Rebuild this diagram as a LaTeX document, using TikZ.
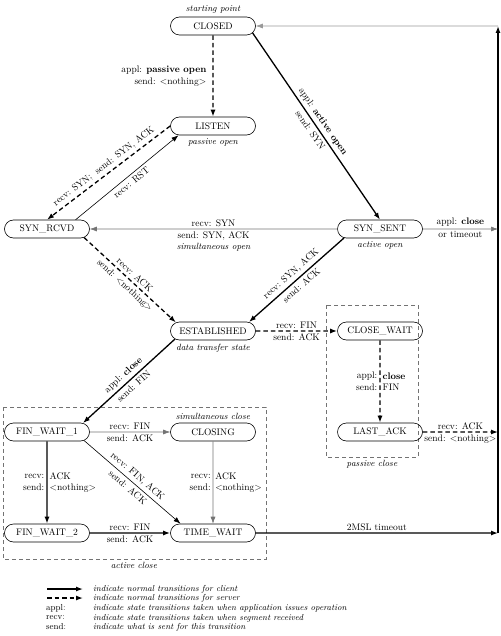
\documentclass[tikz,border=0pt]{standalone}
\usepackage{tikz}
\usetikzlibrary{arrows.meta,shapes.misc}
\newcommand{\statefont}{\fontsize{9.5}{11}\selectfont}
\newcommand{\lblfont}{\fontsize{9.5}{11.5}\selectfont}
\newcommand{\notefont}{\fontsize{9}{10}\selectfont\itshape}
\newcommand{\keyfont}{\fontsize{8.7}{10}\selectfont}

\begin{document}
\begin{tikzpicture}[x=1pt, y=-1pt,
  tcpstate/.style={rounded rectangle, draw, line width=0.6pt,
    minimum width=73pt, minimum height=18pt, inner xsep=-6pt,
    inner ysep=0pt, font=\statefont},
  client/.style={line width=1.3pt, -{Latex[length=7pt,width=5pt]}},
  server/.style={client, dash pattern=on 4.5pt off 3pt},
  thinarrow/.style={line width=0.6pt, black!55, -{Latex[length=7pt,width=5pt]}},
  lbl/.style={font=\lblfont, inner sep=2pt, text=black},
  note/.style={font=\notefont},
  region/.style={draw=black!55, line width=0.6pt, dash pattern=on 4pt off 3pt}]

  \useasboundingbox (0,0) rectangle (500,636);

  % ── Layout ──────────────────────────────────────────────────────────
  \def\colL{47}    % left column
  \def\colM{213}   % middle column
  \def\colR{380}   % right column
  \def\colW{498}   % return line on the right
  \def\rowA{26}    % CLOSED
  \def\rowB{126}   % LISTEN
  \def\rowC{229}   % SYN_RCVD, SYN_SENT
  \def\rowD{331}   % ESTABLISHED, CLOSE_WAIT
  \def\rowE{432}   % FIN_WAIT_1, CLOSING, LAST_ACK
  \def\rowF{533}   % FIN_WAIT_2, TIME_WAIT

  % ── Close regions ────────────────────────────────────────────────────
  \draw[region] (326,305) rectangle (418,457);
  \node[note, below=0pt] (passnote) at (372,457) {passive close};
  \draw[region] (3,407) rectangle (266,559);
  \node[note, below=0pt] (actnote) at (134,559) {active close};

  % ── States ───────────────────────────────────────────────────────────
  \node[tcpstate] (closed)     at (\colM,\rowA) {CLOSED};
  \node[tcpstate] (listen)     at (\colM,\rowB) {LISTEN};
  \node[tcpstate] (synrcvd)    at (\colL,\rowC) {SYN\_RCVD};
  \node[tcpstate] (synsent)    at (\colR,\rowC) {SYN\_SENT};
  \node[tcpstate] (estab)      at (\colM,\rowD) {ESTABLISHED};
  \node[tcpstate] (closewait)  at (\colR,\rowD) {CLOSE\_WAIT};
  \node[tcpstate] (finwaitone) at (\colL,\rowE) {FIN\_WAIT\_1};
  \node[tcpstate] (closing)    at (\colM,\rowE) {CLOSING};
  \node[tcpstate] (lastack)    at (\colR,\rowE) {LAST\_ACK};
  \node[tcpstate] (finwaittwo) at (\colL,\rowF) {FIN\_WAIT\_2};
  \node[tcpstate] (timewait)   at (\colM,\rowF) {TIME\_WAIT};

  % state notes
  \node[note, above=0pt] (startnote) at (closed.north) {starting point};
  \node[note, below=0pt] (listennote) at (listen.south) {passive open};
  \node[note, below=0pt] (sentnote) at (synsent.south) {active open};
  \node[note, below=0pt] (estabnote) at (estab.south) {data transfer state};
  \node[note, above=0pt] (simclose) at (closing.north) {simultaneous close};

  % ── Return line on the right ─────────────────────────────────────────
  \coordinate (wallA) at (\colW,\rowA);
  \coordinate (wallC) at (\colW,\rowC);
  \coordinate (wallE) at (\colW,\rowE);
  \coordinate (wallF) at (\colW,\rowF);
  \draw[client] (wallF) -- (wallA);
  \draw[thinarrow, black!40] (wallA) -- (closed);

  % ── Opening ──────────────────────────────────────────────────────────
  \draw[server] (closed) -- (listen)
    node[lbl, midway, left=4pt, align=right] (popen)
      {appl: \textbf{passive open}\\send: \textless nothing\textgreater};
  \draw[client] (closed.-10) -- (synsent.north)
    node[lbl, midway, sloped, above=1pt] (aopen) {appl: \textbf{active open}}
    node[lbl, midway, sloped, below=1pt] (aopensend) {send: SYN};
  \draw[server] (listen.west) -- (synrcvd.north)
    node[lbl, midway, sloped, above=1pt] (lsyn) {recv: SYN;\ \ send: SYN, ACK};
  \draw[thinarrow, black] (synrcvd.18) -- (listen.195)
    node[lbl, midway, sloped, below=1pt] (rst) {recv: RST};
  \draw[thinarrow] (synsent) -- (synrcvd)
    node[lbl, midway, above] (simrecv) {recv: SYN}
    node[lbl, midway, below, align=center] (simsend)
      {send: SYN, ACK\\{\notefont simultaneous open}};
  \draw[thinarrow] (synsent) -- (wallC)
    node[lbl, midway, above] (sclose) {appl: \textbf{close}}
    node[lbl, midway, below] (stimeout) {or timeout};
  \draw[server] (synrcvd.-13) -- (estab.167)
    node[lbl, midway, sloped, above=1pt] (rack) {recv: ACK}
    node[lbl, midway, sloped, below=1pt] (rnothing)
      {send: \textless nothing\textgreater};
  \draw[client] (synsent.194) -- (estab.14)
    node[lbl, midway, sloped, above=1pt] (ssynack) {recv: SYN, ACK}
    node[lbl, midway, sloped, below=1pt] (sack) {send: ACK};

  % ── Passive close ────────────────────────────────────────────────────
  \draw[server] (estab) -- (closewait)
    node[lbl, midway, above] (efin) {recv: FIN}
    node[lbl, midway, below] (eack) {send: ACK};
  \draw[server] (closewait) -- (lastack)
    node[lbl, midway, left, align=right] (cwkey) {appl:\\send:}
    node[lbl, midway, right, align=left] (cwval) {\textbf{close}\\FIN};
  \draw[server] (lastack) -- (wallE)
    node[lbl, midway, above] (laack) {recv: ACK}
    node[lbl, midway, below] (lanothing) {send: \textless nothing\textgreater};

  % ── Active close ─────────────────────────────────────────────────────
  \draw[client] (estab.192) -- (finwaitone.14)
    node[lbl, midway, sloped, above=1pt] (eclose) {appl: \textbf{close}}
    node[lbl, midway, sloped, below=1pt] (efinsend) {send: FIN};
  \draw[thinarrow] (finwaitone) -- (closing)
    node[lbl, midway, above] (fwfin) {recv: FIN}
    node[lbl, midway, below] (fwack) {send: ACK};
  \draw[client] (finwaitone) -- (finwaittwo)
    node[lbl, midway, left, align=right] (fwkey) {recv:\\send:}
    node[lbl, midway, right, align=left] (fwval)
      {ACK\\\textless nothing\textgreater};
  \draw[thinarrow, black] (finwaitone.-13) -- (timewait.164)
    node[lbl, midway, sloped, above=1pt] (fwfinack) {recv: FIN, ACK}
    node[lbl, midway, sloped, below=1pt] (fwsendack) {send: ACK};
  \draw[thinarrow] (closing) -- (timewait)
    node[lbl, midway, left, align=right] (clkey) {recv:\\send:}
    node[lbl, midway, right, align=left] (clval)
      {ACK\\\textless nothing\textgreater};
  \draw[client] (finwaittwo) -- (timewait)
    node[lbl, midway, above] (f2fin) {recv: FIN}
    node[lbl, midway, below] (f2ack) {send: ACK};
  \draw[client] (timewait) -- (wallF)
    node[lbl, midway, above] (msl) {2MSL timeout};

  % ── Legend ───────────────────────────────────────────────────────────
  \coordinate (keyAs) at (47,589);  \coordinate (keyAe) at (83,589);
  \coordinate (keyBs) at (47,598);  \coordinate (keyBe) at (83,598);
  \draw[client] (keyAs) -- (keyAe);
  \draw[server] (keyBs) -- (keyBe);
  \foreach \i/\yy/\abbr in {3/608/appl:, 4/618/recv:, 5/627/send:} {
    \node[font=\keyfont, anchor=west, inner sep=0pt] (keyabbr\i) at (46,\yy) {\abbr};
  }
  \foreach \i/\yy/\txt in {
      1/589/indicate normal transitions for client,
      2/598/indicate normal transitions for server,
      3/608/indicate state transitions taken when application issues operation,
      4/618/indicate state transitions taken when segment received,
      5/627/indicate what is sent for this transition} {
    \node[font=\keyfont\itshape, anchor=west, inner sep=0pt] (keytxt\i) at (93,\yy) {\txt};
  }

\end{tikzpicture}
\end{document}
